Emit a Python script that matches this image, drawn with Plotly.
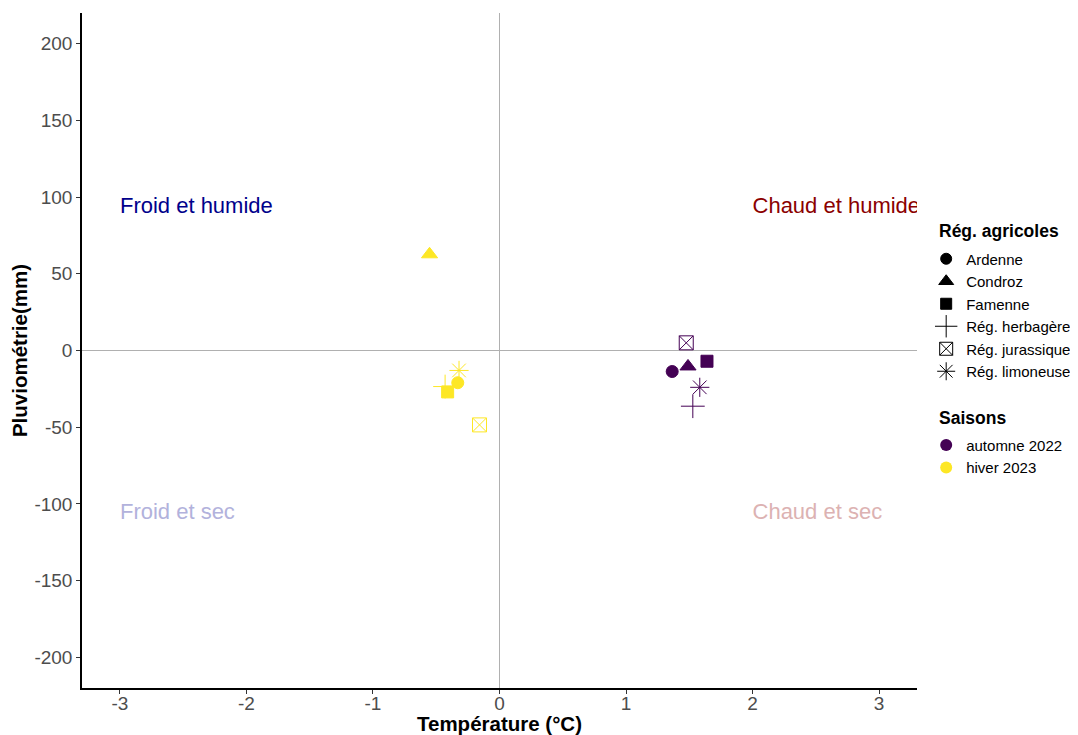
import plotly.graph_objects as go

regions = ["Ardenne", "Condroz", "Famenne", "Rég. herbagère", "Rég. jurassique", "Rég. limoneuse"]
symbols = ["circle", "triangle-up", "square", "cross-thin-open", "square-x-open", "asterisk-open"]
seasons = ["automne 2022", "hiver 2023"]
season_colors = ["#440154", "#FDE725"]

temp_automne = [1.365, 1.49, 1.64, 1.528, 1.476, 1.583]
pluie_automne = [-13.7, -10.4, -7.0, -36.3, 5.0, -24.0]
temp_hiver = [-0.33, -0.553, -0.41, -0.43, -0.158, -0.32]
pluie_hiver = [-21.0, 62.7, -27.0, -23.5, -48.5, -13.0]

quad_labels = ["Froid et humide", "Chaud et humide", "Froid et sec", "Chaud et sec"]
quad_x = [-3, 2, -3, 2]
quad_y = [93, 93, -106, -106]
quad_colors = ["#00008B", "#8B0000", "#B2B2DC", "#DCB2B2"]

x_ticks = [-3, -2, -1, 0, 1, 2, 3]
y_ticks = [-200, -150, -100, -50, 0, 50, 100, 150, 200]

FONT = "Liberation Sans, Arial, sans-serif"

fig = go.Figure()

sizes = {"circle": 12, "triangle-up": 14, "square": 12,
         "cross-thin-open": 17, "square-x-open": 14, "asterisk-open": 16}

for temps, pluies, col in [(temp_automne, pluie_automne, season_colors[0]),
                           (temp_hiver, pluie_hiver, season_colors[1])]:
    for i, r in enumerate(regions):
        s = symbols[i]
        fig.add_trace(go.Scatter(
            x=[temps[i]], y=[pluies[i]], mode="markers",
            marker=dict(symbol=s, size=sizes[s], color=col,
                        line=dict(color=col, width=1)),
            showlegend=False, hoverinfo="x+y"))

# quadrant labels
for lab, x, y, c in zip(quad_labels, quad_x, quad_y, quad_colors):
    fig.add_trace(go.Scatter(
        x=[x], y=[y], mode="text", text=[lab], textposition="middle right",
        textfont=dict(family=FONT, size=22, color=c),
        showlegend=False, hoverinfo="skip", cliponaxis=True))

# legend: regions
for i, r in enumerate(regions):
    s = symbols[i]
    fig.add_trace(go.Scatter(
        x=[None], y=[None], mode="markers", name=r,
        marker=dict(symbol=s, size=sizes[s] - 1, color="black",
                    line=dict(color="black", width=1)),
        legend="legend"))

# legend: seasons
for sname, col in zip(seasons, season_colors):
    fig.add_trace(go.Scatter(
        x=[None], y=[None], mode="markers", name=sname,
        marker=dict(symbol="circle", size=12, color=col),
        legend="legend2"))

fig.add_annotation(text="<b>Rég. agricoles</b>", xref="paper", yref="paper",
                   x=1.024, y=0.677, xanchor="left", yanchor="middle",
                   showarrow=False, font=dict(size=17.5, color="black"))
fig.add_annotation(text="<b>Saisons</b>", xref="paper", yref="paper",
                   x=1.024, y=0.400, xanchor="left", yanchor="middle",
                   showarrow=False, font=dict(size=17.5, color="black"))

fig.update_layout(
    width=1070, height=727,
    margin=dict(l=74, r=161, t=5, b=47, autoexpand=False),
    plot_bgcolor="white", paper_bgcolor="white",
    font=dict(family=FONT, color="black"),
    legend=dict(
        font=dict(size=15), x=1.011, y=0.660, xanchor="left", yanchor="top",
        tracegroupgap=0, itemsizing="trace", bgcolor="rgba(0,0,0,0)"),
    legend2=dict(
        font=dict(size=15), x=1.011, y=0.384, xanchor="left", yanchor="top",
        itemsizing="trace", bgcolor="rgba(0,0,0,0)"),
    xaxis=dict(
        range=[-3.3, 3.3], tickvals=x_ticks,
        ticktext=[str(v) for v in x_ticks],
        showgrid=False, zeroline=True, zerolinecolor="#B0B0B0", zerolinewidth=1,
        showline=True, linecolor="black", linewidth=1.5,
        ticks="outside", ticklen=4, tickcolor="#333333",
        tickfont=dict(size=19, color="#4D4D4D"), ticklabelstandoff=-7,
        title=dict(text="<b>Température (°C)</b>", font=dict(size=20.5), standoff=4),
        automargin=False),
    yaxis=dict(
        range=[-220, 220], tickvals=y_ticks,
        ticktext=[str(v) for v in y_ticks],
        showgrid=False, zeroline=True, zerolinecolor="#B0B0B0", zerolinewidth=1,
        showline=True, linecolor="black", linewidth=1.5,
        ticks="outside", ticklen=4, tickcolor="#333333",
        tickfont=dict(size=19, color="#4D4D4D"),
        title=dict(text="<b>Pluviométrie(mm)</b>", font=dict(size=20.5), standoff=6),
        automargin=False),
)

fig.write_html("out.html")
